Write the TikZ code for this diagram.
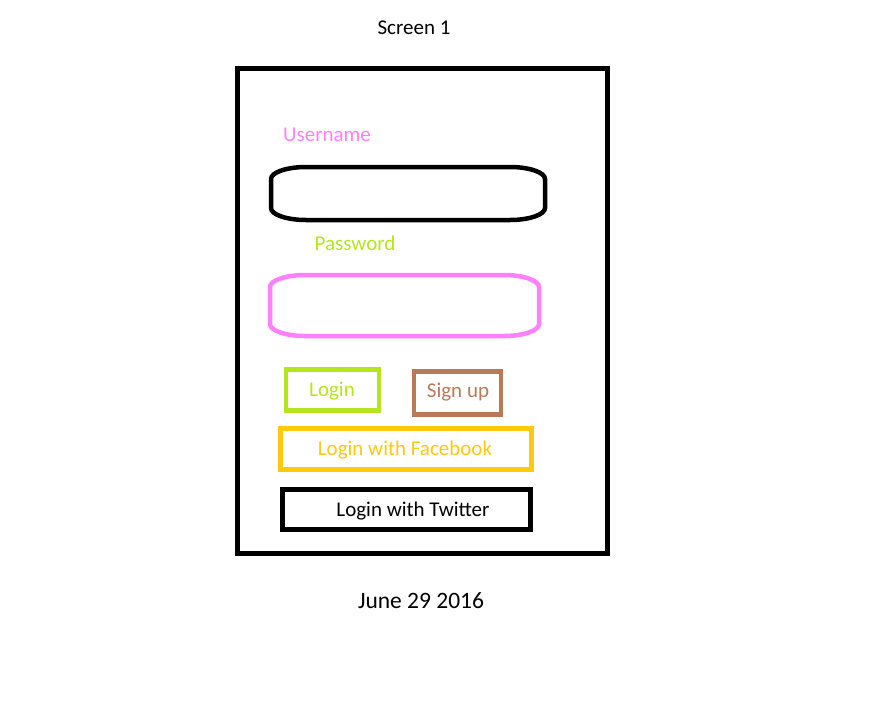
\documentclass[tikz,border=0pt]{standalone}
\usepackage{fontspec}
\setmainfont{Carlito}
\definecolor{pinkc}{HTML}{FF80FF}
\definecolor{limec}{HTML}{B5E61D}
\definecolor{goldc}{HTML}{FFC90E}
\definecolor{brownc}{HTML}{B97A57}
\tikzset{
  lbl/.style={inner sep=0pt, font=\fontsize{21}{25}\selectfont},
  btn/.style={draw, line width=4.5pt, inner sep=0pt, minimum width=#1},
  frame/.style={draw, line width=5pt},
}
\newcommand{\ovalbox}[5]{% x1 y1 x2 y2 colour
  \draw[line width=4.5pt,#5] (#1,#2+12) -- (#1,#4-12)
    .. controls (#1,#4-5.4) and (#1+15.7,#4) .. (#1+35,#4) -- (#3-35,#4)
    .. controls (#3-15.7,#4) and (#3,#4-5.4) .. (#3,#4-12) -- (#3,#2+12)
    .. controls (#3,#2+5.4) and (#3-15.7,#2) .. (#3-35,#2) -- (#1+35,#2)
    .. controls (#1+15.7,#2) and (#1,#2+5.4) .. cycle;}
\begin{document}
\begin{tikzpicture}[x=1pt,y=-1pt]
\useasboundingbox (0,0) rectangle (891,705);
\fill[white] (0,0) rectangle (891,705);
\node[lbl] (title) at (414,28) {Screen 1};
\node[frame, minimum width=370pt, minimum height=485pt, inner sep=0pt] (screen) at (422,310.5) {};
\node[lbl, text=pinkc] (ulabel) at (327,135) {Username};
\ovalbox{271}{167}{545}{220}{black}
\node[inner sep=0pt, minimum width=274pt, minimum height=55pt] (ubox) at (408,193) {};
\node[lbl, text=limec] (plabel) at (355,243) {Password};
\ovalbox{270}{275}{539}{336}{pinkc}
\node[inner sep=0pt, minimum width=270pt, minimum height=63pt] (pbox) at (404.5,305.5) {};
\node[btn=93pt, minimum height=41pt, draw=limec] (login) at (332.5,390) {};
\node[lbl, text=limec] (logint) at (332,391) {Login};
\node[btn=87pt, minimum height=43pt, draw=brownc] (signup) at (457.5,393) {};
\node[lbl, text=brownc] (signupt) at (458,392) {Sign up};
\node[btn=251pt, minimum height=41pt, draw=goldc] (fb) at (406,449) {};
\node[lbl, text=goldc] (fbt) at (405,450) {Login with Facebook};
\node[btn=248pt, minimum height=40pt, draw=black] (tw) at (406.5,509.5) {};
\node[lbl] (twt) at (413,511) {Login with Twitter};
\node[inner sep=0pt, font=\fontsize{23.5}{28}\selectfont] (date) at (421,601) {June 29 2016};
\end{tikzpicture}
\end{document}
